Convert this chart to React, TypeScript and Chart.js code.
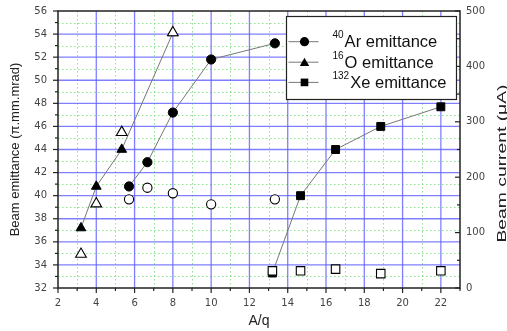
import React, { useEffect, useRef } from 'react';
import { Chart, registerables } from 'chart.js';

Chart.register(...registerables);

// ---- axis ticks ----
const X_TICKS = [2, 4, 6, 8, 10, 12, 14, 16, 18, 20, 22];
const Y_TICKS = [32, 34, 36, 38, 40, 42, 44, 46, 48, 50, 52, 54, 56];
const Y1_TICKS = [0, 100, 200, 300, 400, 500];

// ---- data: A/q ----
const AQ_AR = [5.71, 6.67, 8, 10, 13.33];
const AQ_O = [3.2, 4, 5.33, 8];
const AQ_XE = [13.2, 14.67, 16.5, 18.86, 22];

// emittance (π.mm.mrad)
const AR_EMIT = [40.8, 42.9, 47.2, 51.8, 53.2];
const O_EMIT = [37.2, 40.8, 44.0, 54.1];
const XE_EMIT = [33.3, 40.0, 44.0, 46.0, 47.7];

// beam current (μA)
const AR_CURRENT = [160, 181, 171, 151, 160];
const O_CURRENT = [61, 152, 281, 461];
const XE_CURRENT = [31, 31, 34, 26, 31];

// legend
const LEGEND_SUPS = ['40', '16', '132'];
const LEGEND_TEXTS = ['Ar emittance', 'O emittance', 'Xe emittance'];
const LEGEND_SHAPES = ['circle', 'triangle', 'rect'];

const X_TITLE = 'A/q';
const Y_TITLE = 'Beam emittance (π.mm.mrad)';
const Y1_TITLE = 'Beam current (μA)';

const FONT = "'Liberation Sans', Arial, sans-serif";
const TICK_FONT = "'DejaVu Sans', sans-serif";

const pts = (xs: number[], ys: number[]) => xs.map((x, i) => ({ x, y: ys[i] }));

function drawShape(ctx: CanvasRenderingContext2D, shape: string, x: number, y: number, r: number) {
  ctx.beginPath();
  if (shape === 'circle') {
    ctx.arc(x, y, r, 0, Math.PI * 2);
  } else if (shape === 'triangle') {
    const h = r * 1.5;
    const w = r * Math.sqrt(3);
    ctx.moveTo(x, y - r);
    ctx.lineTo(x + w / 2, y - r + h);
    ctx.lineTo(x - w / 2, y - r + h);
    ctx.closePath();
  } else {
    const s = r * Math.SQRT1_2;
    ctx.rect(x - s, y - s, 2 * s, 2 * s);
  }
  ctx.fill();
}

const decorPlugin = {
  id: 'decor',
  beforeDatasetsDraw(chart: any) {
    const { ctx, chartArea: a, scales } = chart;
    const sx = scales.x, sy = scales.y, sy1 = scales.y1;
    const line = (x1: number, y1: number, x2: number, y2: number) => {
      ctx.beginPath();
      ctx.moveTo(x1, y1);
      ctx.lineTo(x2, y2);
      ctx.stroke();
    };
    ctx.save();
    // minor dotted green grid
    ctx.strokeStyle = 'rgba(110,215,110,0.75)';
    ctx.lineWidth = 1;
    ctx.setLineDash([1.5, 2.5]);
    for (let v = 3; v < 23; v += 2) {
      const px = Math.round(sx.getPixelForValue(v)) + 0.5;
      line(px, a.top, px, a.bottom);
    }
    for (let v = 33; v < 56; v += 2) {
      const py = Math.round(sy.getPixelForValue(v)) + 0.5;
      line(a.left, py, a.right, py);
    }
    ctx.setLineDash([]);
    // major blue grid
    ctx.strokeStyle = 'rgba(95,95,255,0.8)';
    ctx.lineWidth = 1.3;
    for (const v of X_TICKS) {
      if (v <= 2) continue;
      const px = sx.getPixelForValue(v);
      line(px, a.top, px, a.bottom);
    }
    for (const v of Y_TICKS) {
      if (v <= 32 || v >= 56) continue;
      const py = sy.getPixelForValue(v);
      line(a.left, py, a.right, py);
    }
    // frame
    ctx.strokeStyle = '#222';
    ctx.lineWidth = 1.5;
    ctx.strokeRect(a.left, a.top, a.right - a.left, a.bottom - a.top);
    // tick marks
    ctx.lineWidth = 1.2;
    for (const v of Y_TICKS) {
      const py = sy.getPixelForValue(v);
      line(a.left - 5, py, a.left, py);
    }
    for (let v = 33; v < 56; v += 2) {
      const py = sy.getPixelForValue(v);
      line(a.left - 3, py, a.left, py);
    }
    for (const v of X_TICKS) {
      const px = sx.getPixelForValue(v);
      line(px, a.bottom, px, a.bottom + 5);
    }
    for (let v = 3; v <= 23; v += 2) {
      const px = sx.getPixelForValue(v);
      line(px, a.bottom, px, a.bottom + 3);
    }
    for (const v of Y1_TICKS) {
      const py = sy1.getPixelForValue(v);
      line(a.right - 5, py, a.right, py);
    }
    for (let v = 50; v < 500; v += 100) {
      const py = sy1.getPixelForValue(v);
      line(a.right - 3, py, a.right, py);
    }
    ctx.restore();
  },
  afterDraw(chart: any) {
    const { ctx, chartArea: a } = chart;
    ctx.save();
    // right axis title (reads bottom to top)
    ctx.font = `13px ${FONT}`;
    ctx.fillStyle = '#222';
    const w = ctx.measureText(Y1_TITLE).width;
    ctx.translate(a.right + 42, (a.top + a.bottom) / 2 + 14);
    ctx.rotate(-Math.PI / 2);
    ctx.scale(158 / w, 1);
    ctx.textAlign = 'center';
    ctx.textBaseline = 'middle';
    ctx.fillText(Y1_TITLE, 0, 0);
    ctx.restore();

    // legend
    ctx.save();
    const bx = a.right - 173.5, by = a.top + 5.5, bw = 170, bh = 83;
    ctx.fillStyle = '#fff';
    ctx.fillRect(bx, by, bw, bh);
    ctx.strokeStyle = '#222';
    ctx.lineWidth = 1.2;
    ctx.strokeRect(bx, by, bw, bh);
    const rowY = [30.7, 51.2, 71.4];
    LEGEND_TEXTS.forEach((text, i) => {
      const cy = a.top + rowY[i];
      ctx.strokeStyle = '#777';
      ctx.lineWidth = 1;
      ctx.beginPath();
      ctx.moveTo(bx + 2, cy);
      ctx.lineTo(bx + 32, cy);
      ctx.stroke();
      ctx.fillStyle = '#000';
      const shape = LEGEND_SHAPES[i];
      drawShape(ctx, shape, bx + 18, shape === 'triangle' ? cy + 1 : cy, shape === 'circle' ? 4.6 : 5.4);
      ctx.fillStyle = '#111';
      ctx.textAlign = 'left';
      ctx.textBaseline = 'alphabetic';
      ctx.font = `10px ${FONT}`;
      const sx = bx + 46;
      ctx.fillText(LEGEND_SUPS[i], sx, cy - 3.5);
      const sw = ctx.measureText(LEGEND_SUPS[i]).width;
      ctx.font = `16.5px ${FONT}`;
      ctx.fillText(text, sx + sw + 1, cy + 5.5);
    });
    ctx.restore();
  },
};

const noPad = (s: any) => {
  s.paddingTop = 0;
  s.paddingBottom = 0;
};

export default function App() {
  const ref = useRef<HTMLCanvasElement | null>(null);
  useEffect(() => {
    if (!ref.current) return;
    const tickFont = { family: TICK_FONT, size: 10 };
    const chart = new Chart(ref.current, {
      type: 'scatter',
      data: {
        datasets: [
          {
            label: 'Ar current',
            data: pts(AQ_AR, AR_CURRENT),
            yAxisID: 'y1',
            showLine: false,
            pointStyle: 'circle',
            pointRadius: 4.6,
            pointBackgroundColor: '#fff',
            pointBorderColor: '#000',
            pointBorderWidth: 1.1,
            order: 0,
          },
          {
            label: 'O current',
            data: pts(AQ_O, O_CURRENT),
            yAxisID: 'y1',
            showLine: false,
            pointStyle: 'triangle',
            pointRadius: 6.2,
            pointBackgroundColor: '#fff',
            pointBorderColor: '#000',
            pointBorderWidth: 1.1,
            order: 0,
          },
          {
            label: 'Xe current',
            data: pts(AQ_XE, XE_CURRENT),
            yAxisID: 'y1',
            showLine: false,
            pointStyle: 'rect',
            pointRadius: 6,
            pointBackgroundColor: '#fff',
            pointBorderColor: '#000',
            pointBorderWidth: 1.1,
            order: 0,
          },
          {
            label: '40Ar emittance',
            data: pts(AQ_AR, AR_EMIT),
            yAxisID: 'y',
            showLine: true,
            borderColor: '#777',
            borderWidth: 1,
            pointStyle: 'circle',
            pointRadius: 4.6,
            pointBackgroundColor: '#000',
            pointBorderColor: '#000',
            pointBorderWidth: 1,
            order: 1,
          },
          {
            label: '16O emittance',
            data: pts(AQ_O, O_EMIT),
            yAxisID: 'y',
            showLine: true,
            borderColor: '#777',
            borderWidth: 1,
            pointStyle: 'triangle',
            pointRadius: 5.6,
            pointBackgroundColor: '#000',
            pointBorderColor: '#000',
            pointBorderWidth: 1,
            order: 1,
          },
          {
            label: '132Xe emittance',
            data: pts(AQ_XE, XE_EMIT),
            yAxisID: 'y',
            showLine: true,
            borderColor: '#777',
            borderWidth: 1,
            pointStyle: 'rect',
            pointRadius: 5.6,
            pointBackgroundColor: '#000',
            pointBorderColor: '#000',
            pointBorderWidth: 1,
            order: 1,
          },
        ],
      },
      options: {
        animation: false,
        responsive: false,
        events: [],
        layout: { padding: { top: 11, left: 0, right: 0, bottom: 0 } },
        plugins: {
          legend: { display: false },
          tooltip: { enabled: false },
        },
        scales: {
          x: {
            type: 'linear',
            position: 'bottom',
            min: 2,
            max: 23,
            afterBuildTicks: (s: any) => {
              s.ticks = X_TICKS.map((value) => ({ value }));
            },
            afterFit: (s: any) => {
              s.height = 43;
            },
            grid: { display: false, drawTicks: false },
            border: { display: false },
            ticks: { font: tickFont, color: '#444', padding: 9, maxRotation: 0, autoSkip: false },
            title: {
              display: true,
              text: X_TITLE,
              color: '#222',
              font: { family: FONT, size: 14, lineHeight: 1 },
              padding: { top: 0, bottom: 3 },
            },
          },
          y: {
            type: 'linear',
            position: 'left',
            min: 32,
            max: 56,
            afterBuildTicks: (s: any) => {
              s.ticks = Y_TICKS.map((value) => ({ value }));
            },
            afterFit: (s: any) => {
              s.width = 58;
              noPad(s);
            },
            grid: { display: false, drawTicks: false },
            border: { display: false },
            ticks: { font: tickFont, color: '#444', padding: 11, autoSkip: false },
            title: {
              display: true,
              text: Y_TITLE,
              color: '#222',
              font: { family: FONT, size: 13, lineHeight: 1 },
              padding: { top: 8.5, bottom: 0 },
            },
          },
          y1: {
            type: 'linear',
            position: 'right',
            min: 0,
            max: 500,
            afterBuildTicks: (s: any) => {
              s.ticks = Y1_TICKS.map((value) => ({ value }));
            },
            afterFit: (s: any) => {
              s.width = 47;
              noPad(s);
            },
            grid: { display: false, drawTicks: false },
            border: { display: false },
            ticks: { font: tickFont, color: '#444', padding: 6, autoSkip: false },
          },
        },
      },
      plugins: [decorPlugin],
    } as any);
    return () => chart.destroy();
  }, []);
  return (
    <div style={{ position: 'fixed', left: 0, top: 0, width: 507, height: 331, background: '#fff' }}>
      <canvas ref={ref} width={507} height={331} style={{ width: 507, height: 331, display: 'block' }} />
    </div>
  );
}
